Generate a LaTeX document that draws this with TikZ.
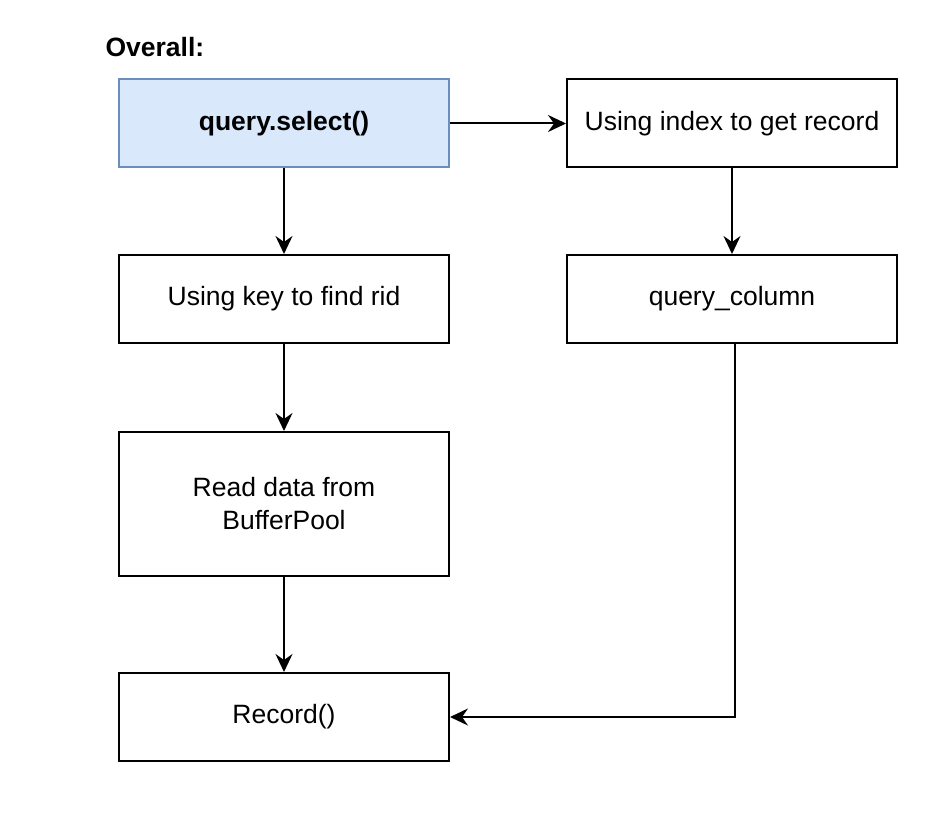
\documentclass[tikz,border=0pt]{standalone}
\usepackage{fontspec}
\setmainfont{Liberation Sans}
\usetikzlibrary{arrows.meta}
\definecolor{bluefill}{HTML}{DAE8FC}
\definecolor{bluedraw}{HTML}{6C8EBF}
\begin{document}
\begin{tikzpicture}[x=1pt,y=-1pt,
  box/.style={draw=black,line width=2pt,fill=white,minimum width=330pt,minimum height=88pt,inner sep=0pt,font=\fontsize{26.5}{33}\selectfont,align=center},
  conn/.style={line width=2pt,-{Stealth[length=18pt,width=17pt,inset=6pt]}}]
\useasboundingbox (0,0) rectangle (952,818);
\node[anchor=west,font=\fontsize{26.5}{30}\selectfont\bfseries] (title) at (102,47) {Overall:};
\node[box,fill=bluefill,draw=bluedraw,font=\fontsize{26.5}{33}\selectfont\bfseries] (sel) at (284,123.5) {query.select()};
\node[box] (idx) at (732,123.5) {Using index to get record};
\node[box] (key) at (284,299) {Using key to find rid};
\node[box] (col) at (732,299) {query\_column};
\node[box,minimum height=144pt] (read) at (284,504) {Read data from\\ BufferPool};
\node[box] (rec) at (284,717) {Record()};
\draw[conn] (sel) -- (idx);
\draw[conn] (sel) -- (key);
\draw[conn] (idx) -- (col);
\draw[conn] (key) -- (read);
\draw[conn] (read) -- (rec);
\draw[conn] ([xshift=3pt]col.south) |- (rec.east);
\end{tikzpicture}
\end{document}
